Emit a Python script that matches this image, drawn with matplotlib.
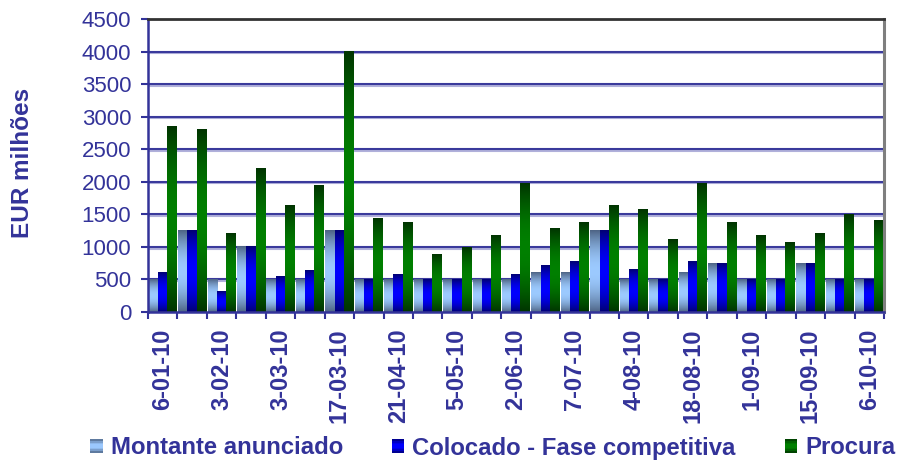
import numpy as np
import matplotlib.pyplot as plt
import matplotlib.patheffects as pe
from matplotlib.colors import to_rgb
from matplotlib.patches import Rectangle
from matplotlib.legend_handler import HandlerBase

plt.rcParams["font.family"] = ["Liberation Sans", "DejaVu Sans"]

# dados (EUR milhoes), um grupo por leilao
datas = ["6-01-10", "3-02-10", "3-03-10", "17-03-10", "21-04-10", "5-05-10",
         "2-06-10", "7-07-10", "4-08-10", "18-08-10", "1-09-10", "15-09-10",
         "6-10-10"]
montante = [500, 1250, 500, 1000, 500, 500, 1250, 500, 500, 500, 500, 500, 500,
            600, 600, 1250, 500, 500, 600, 750, 500, 500, 750, 500, 500]
colocado = [600, 1250, 310, 1000, 550, 645, 1250, 500, 580, 500, 500, 500, 580,
            720, 780, 1250, 660, 500, 780, 750, 500, 500, 750, 500, 500]
procura = [2850, 2800, 1200, 2200, 1640, 1950, 4000, 1440, 1380, 890, 990, 1180,
           1980, 1290, 1380, 1640, 1580, 1120, 1980, 1380, 1180, 1060, 1210,
           1490, 1410]
series = ["Montante anunciado", "Colocado - Fase competitiva", "Procura"]

azul = "#333399"
# (cor da borda, cor do meio) do degrade
cores = [("#4c6282", "#9ccaff"), ("#000070", "#0000ff"), ("#003200", "#008000")]


def degrade(c_borda, c_meio, n=64):
    t = (np.arange(n) + 0.5) / n
    v = np.sin(np.pi * t) ** 0.9
    a = np.array(to_rgb(c_borda))
    b = np.array(to_rgb(c_meio))
    return a + (b - a) * v[:, None]


class HandlerDegrade(HandlerBase):
    def __init__(self, c_borda, c_meio):
        super().__init__()
        self.cols = degrade(c_borda, c_meio, 8)

    def create_artists(self, legend, orig_handle, xdescent, ydescent,
                       width, height, fontsize, trans):
        n = len(self.cols)
        arts = []
        for i, c in enumerate(self.cols):
            arts.append(Rectangle((-xdescent, -ydescent + height * i / n),
                                  width, height / n, facecolor=c,
                                  edgecolor="none", transform=trans))
        return arts


fig = plt.figure(figsize=(8.99, 4.62), dpi=100)
ax = fig.add_axes([148 / 899, 1 - 312 / 462, 736 / 899, 293 / 462])

x = np.arange(len(procura))
larg = 0.325
desloc = [-0.315, 0.0, 0.315]
for k, vals in enumerate([montante, colocado, procura]):
    img = degrade(*cores[k])[:, None, :]
    for xi, h in zip(x, vals):
        x0 = xi + desloc[k] - larg / 2
        ax.imshow(img, extent=[x0, x0 + larg, 0, h], origin="lower",
                  aspect="auto", interpolation="bilinear", zorder=2 + k * 0.1)

ax.set_xlim(-0.5, len(procura) - 0.5)
ax.set_ylim(0, 4500)

yt = np.arange(0, 4501, 500)
for yv in yt[1:-1]:
    ax.axhline(yv, color="#3a3a9c", lw=1.5, zorder=1,
               path_effects=[pe.SimpleLineShadow(offset=(0, -1.2),
                                                 shadow_color="#b0b0da",
                                                 alpha=1.0),
                             pe.Normal()])

ax.set_yticks(yt)
ax.set_yticklabels([str(v) for v in yt], fontsize=16, color=azul)
ax.set_xticks(x[::2])
ax.set_xticklabels(datas, rotation=90, fontsize=17, fontweight="bold",
                   color=azul)
ax.set_xticks(np.arange(-0.5, len(procura)), minor=True)
ax.tick_params(axis="x", which="major", length=0, pad=12)
ax.tick_params(axis="x", which="minor", length=5, width=1.5, color=azul,
               direction="out")
ax.tick_params(axis="y", length=5, width=1.5, color=azul, direction="out",
               pad=7)

ax.spines["left"].set_color(azul)
ax.spines["bottom"].set_color(azul)
ax.spines["left"].set_linewidth(1.8)
ax.spines["bottom"].set_linewidth(1.8)
ax.spines["top"].set_color("#333333")
ax.spines["top"].set_linewidth(2)
ax.spines["right"].set_color("#7f7f7f")
ax.spines["right"].set_linewidth(2.2)

fig.text(23 / 899, 1 - 163 / 462, "EUR milhões", rotation=90, ha="center",
         va="center", fontsize=17.5, fontweight="bold", color=azul)

handles = [Rectangle((0, 0), 1, 1) for _ in series]
hmap = {h: HandlerDegrade(*c) for h, c in zip(handles, cores)}
leg = fig.legend(handles, series, handler_map=hmap, loc="center left",
                 bbox_to_anchor=(90 / 899, 1 - 448 / 462), ncol=3,
                 frameon=False, borderpad=0, borderaxespad=0,
                 handlelength=0.53, handleheight=0.5, handletextpad=0.33,
                 columnspacing=2.05,
                 prop={"size": 17.2, "weight": "bold"})
for t in leg.get_texts():
    t.set_color(azul)

fig.savefig("out.png", dpi=100)
